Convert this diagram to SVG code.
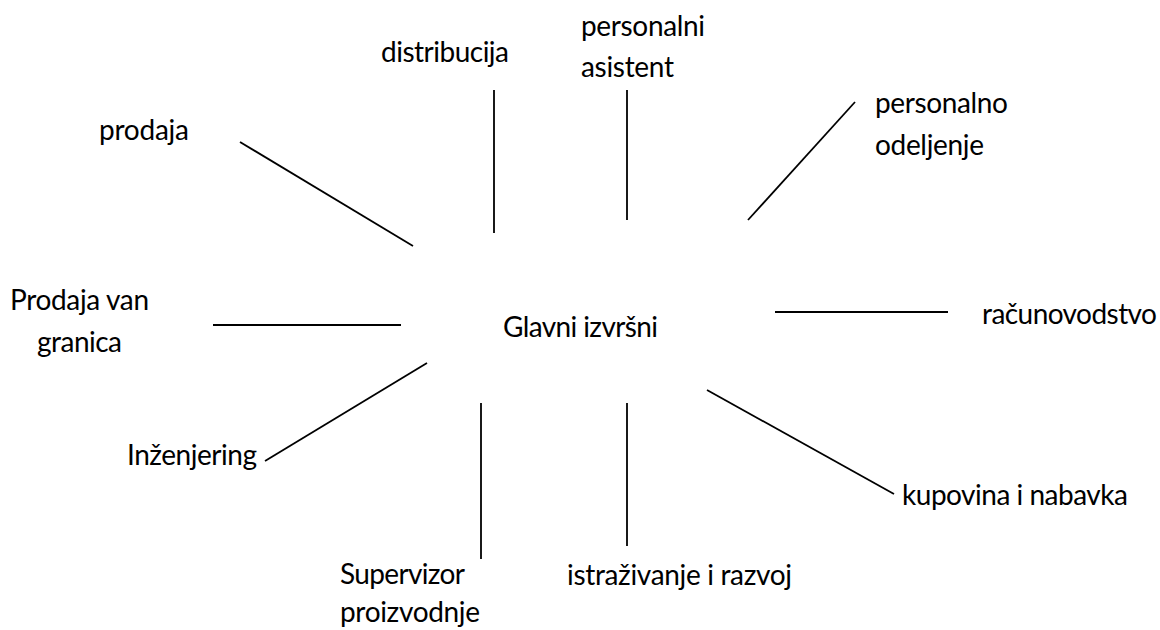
<svg xmlns="http://www.w3.org/2000/svg" width="1160" height="630" viewBox="0 0 1160 630">
<style>
text{font-family:Lato,"Open Sans","Liberation Sans",sans-serif;font-size:28px;fill:#000}
.c line{stroke:#000;stroke-width:1.8;fill:none}
</style>
<rect width="1160" height="630" fill="#fff"/>
<g id="center"><text x="503" y="337" textLength="155" lengthAdjust="spacing">Glavni izvršni</text></g>
<g id="prodaja"><text x="99" y="140" textLength="90" lengthAdjust="spacing">prodaja</text></g>
<g id="distribucija"><text x="381" y="62" textLength="128" lengthAdjust="spacing">distribucija</text></g>
<g id="personalni-asistent"><text x="581" y="36" textLength="124" lengthAdjust="spacing">personalni</text><text x="581" y="77" textLength="93" lengthAdjust="spacing">asistent</text></g>
<g id="personalno-odeljenje"><text x="875" y="113" textLength="133" lengthAdjust="spacing">personalno</text><text x="875" y="155" textLength="109" lengthAdjust="spacing">odeljenje</text></g>
<g id="prodaja-van-granica"><text x="10" y="310" textLength="139" lengthAdjust="spacing">Prodaja van</text><text x="37" y="352" textLength="85" lengthAdjust="spacing">granica</text></g>
<g id="racunovodstvo"><text x="982" y="324" textLength="175" lengthAdjust="spacing">računovodstvo</text></g>
<g id="inzenjering"><text x="127" y="465" textLength="130" lengthAdjust="spacing">Inženjering</text></g>
<g id="kupovina"><text x="902" y="505" textLength="226" lengthAdjust="spacing">kupovina i nabavka</text></g>
<g id="supervizor"><text x="340" y="584" textLength="125" lengthAdjust="spacing">Supervizor</text><text x="340" y="622" textLength="140" lengthAdjust="spacing">proizvodnje</text></g>
<g id="istrazivanje"><text x="567" y="585" textLength="225" lengthAdjust="spacing">istraživanje i razvoj</text></g>
<g id="connectors" class="c">
<line x1="240" y1="142" x2="413" y2="246"/>
<line x1="494" y1="90" x2="494" y2="233"/>
<line x1="627" y1="90" x2="627" y2="220"/>
<line x1="855" y1="102" x2="748" y2="220"/>
<line x1="213" y1="325" x2="401" y2="325"/>
<line x1="775" y1="312" x2="948" y2="312"/>
<line x1="265" y1="461" x2="427" y2="363"/>
<line x1="481" y1="403" x2="481" y2="559"/>
<line x1="627" y1="403" x2="627" y2="546"/>
<line x1="707" y1="390" x2="894" y2="494"/>
</g>
</svg>
